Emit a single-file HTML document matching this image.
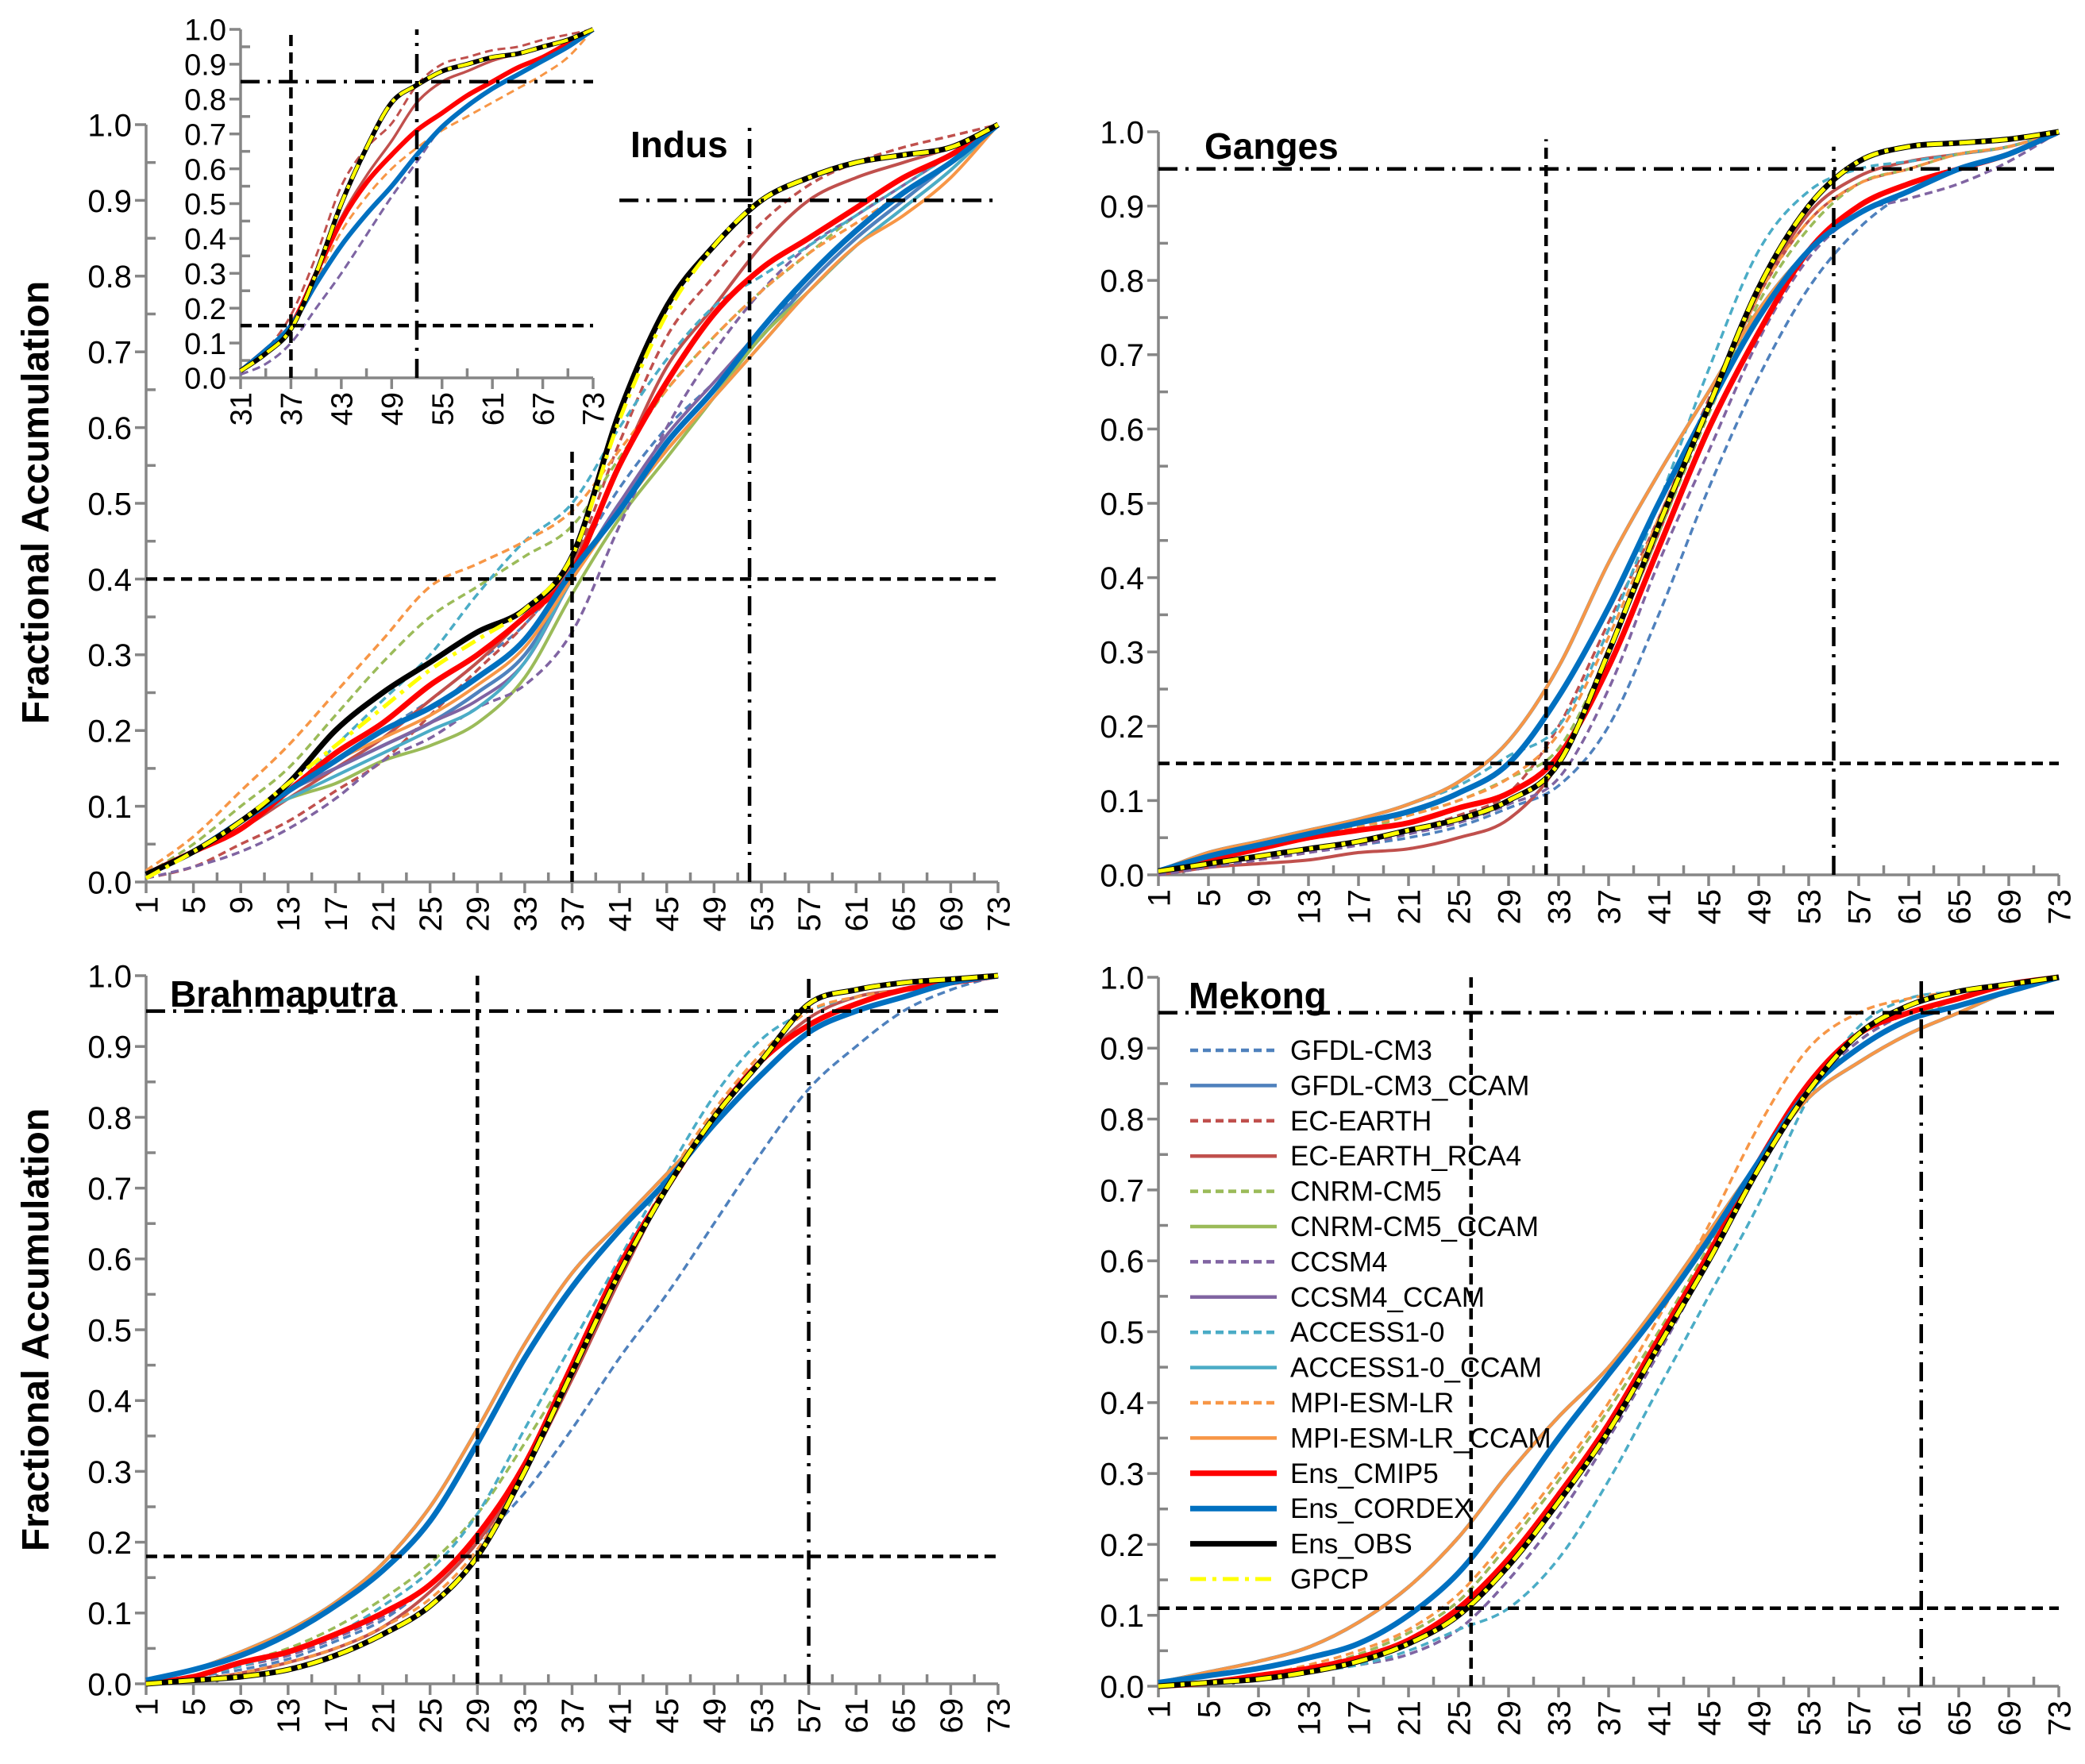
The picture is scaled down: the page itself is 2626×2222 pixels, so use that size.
<!DOCTYPE html>
<html><head><meta charset="utf-8"><style>
html,body{margin:0;padding:0;background:#fff;}
svg{display:block;font-family:"Liberation Sans",sans-serif;}
</style></head><body>
<svg id="chart" xmlns="http://www.w3.org/2000/svg" width="2626" height="2222" viewBox="0 0 2626 2222">
<rect x="0" y="0" width="2626" height="2222" fill="#fff"/>
</svg>
<script>
// ---------- data ----------
const days = [1,5,9,13,17,21,25,29,33,37,41,45,49,53,57,61,65,69,73];
const insetDays = [31,34,37,40,43,46,49,52,55,58,61,64,67,70,73];
const seriesNames = ["GFDL-CM3","GFDL-CM3_CCAM","EC-EARTH","EC-EARTH_RCA4","CNRM-CM5","CNRM-CM5_CCAM","CCSM4","CCSM4_CCAM","ACCESS1-0","ACCESS1-0_CCAM","MPI-ESM-LR","MPI-ESM-LR_CCAM","Ens_CMIP5","Ens_CORDEX","Ens_OBS","GPCP"];

// Indus
const indus_GFDL = [0.01,0.04,0.08,0.12,0.16,0.20,0.24,0.29,0.34,0.42,0.52,0.60,0.66,0.73,0.79,0.85,0.90,0.95,1.0];
const indus_GFDL_CCAM = [0.01,0.04,0.08,0.12,0.15,0.18,0.21,0.25,0.30,0.40,0.50,0.58,0.65,0.72,0.79,0.85,0.90,0.95,1.0];
const indus_EC = [0.005,0.02,0.05,0.08,0.12,0.16,0.22,0.28,0.34,0.42,0.58,0.72,0.80,0.87,0.92,0.95,0.97,0.985,1.0];
const indus_EC_RCA4 = [0.01,0.04,0.07,0.11,0.15,0.19,0.24,0.29,0.35,0.42,0.55,0.68,0.76,0.84,0.90,0.93,0.95,0.97,1.0];
const indus_CNRM = [0.01,0.05,0.10,0.15,0.22,0.29,0.35,0.39,0.43,0.47,0.56,0.65,0.72,0.78,0.83,0.88,0.92,0.96,1.0];
const indus_CNRM_CCAM = [0.01,0.04,0.08,0.11,0.13,0.16,0.18,0.21,0.27,0.38,0.48,0.56,0.64,0.72,0.78,0.84,0.89,0.94,1.0];
const indus_CCSM4 = [0.005,0.02,0.04,0.07,0.11,0.16,0.19,0.23,0.26,0.33,0.47,0.60,0.70,0.78,0.84,0.88,0.92,0.96,1.0];
const indus_CCSM4_CCAM = [0.01,0.04,0.08,0.12,0.15,0.18,0.21,0.24,0.29,0.40,0.50,0.59,0.66,0.73,0.80,0.86,0.91,0.95,1.0];
const indus_ACCESS = [0.01,0.04,0.08,0.12,0.18,0.24,0.30,0.38,0.45,0.50,0.60,0.69,0.76,0.80,0.84,0.88,0.92,0.96,1.0];
const indus_ACCESS_CCAM = [0.01,0.04,0.08,0.11,0.14,0.17,0.20,0.23,0.29,0.40,0.49,0.57,0.64,0.71,0.78,0.84,0.89,0.94,1.0];
const indus_MPI = [0.015,0.06,0.12,0.18,0.25,0.32,0.39,0.42,0.45,0.49,0.57,0.65,0.72,0.78,0.83,0.87,0.91,0.95,1.0];
const indus_MPI_CCAM = [0.01,0.04,0.08,0.12,0.16,0.19,0.22,0.26,0.31,0.40,0.49,0.57,0.64,0.71,0.78,0.84,0.88,0.93,1.0];
const indus_CMIP5 = [0.01,0.04,0.07,0.12,0.17,0.21,0.26,0.30,0.35,0.41,0.55,0.66,0.75,0.81,0.85,0.89,0.93,0.96,1.0];
const indus_CORDEX = [0.01,0.04,0.08,0.12,0.16,0.20,0.23,0.27,0.32,0.41,0.49,0.58,0.65,0.73,0.80,0.86,0.91,0.95,1.0];
const indus_OBS = [0.01,0.04,0.08,0.13,0.20,0.25,0.29,0.33,0.36,0.43,0.62,0.76,0.84,0.90,0.93,0.95,0.96,0.97,1.0];
const indus_GPCP = [0.005,0.04,0.08,0.13,0.18,0.23,0.28,0.32,0.36,0.43,0.61,0.75,0.84,0.90,0.93,0.95,0.96,0.97,1.0];

// Indus inset (days 31-73)
const inset_GFDL = [0.01,0.04,0.10,0.20,0.30,0.41,0.52,0.62,0.72,0.78,0.83,0.87,0.91,0.95,1.0];
const inset_CCAM = [0.02,0.08,0.15,0.27,0.38,0.47,0.55,0.64,0.72,0.78,0.83,0.87,0.91,0.95,1.0];
const inset_EC = [0.02,0.08,0.18,0.35,0.55,0.66,0.73,0.84,0.90,0.92,0.94,0.95,0.97,0.985,1.0];
const inset_EC_RCA4 = [0.02,0.07,0.15,0.30,0.46,0.58,0.68,0.79,0.85,0.88,0.91,0.93,0.95,0.97,1.0];
const inset_CMIP5 = [0.02,0.08,0.15,0.30,0.45,0.56,0.64,0.71,0.76,0.81,0.85,0.89,0.92,0.96,1.0];
const inset_MPI = [0.02,0.07,0.14,0.28,0.42,0.52,0.60,0.66,0.71,0.75,0.79,0.83,0.87,0.92,1.0];
const inset_OBS = [0.02,0.07,0.14,0.30,0.50,0.66,0.79,0.84,0.88,0.90,0.92,0.93,0.95,0.97,1.0];

// Ganges
const ganges_GFDL = [0.0,0.01,0.02,0.03,0.04,0.05,0.065,0.09,0.12,0.20,0.35,0.52,0.67,0.79,0.87,0.92,0.95,0.97,1.0];
const ganges_CCAM = [0.005,0.03,0.045,0.06,0.075,0.095,0.125,0.18,0.28,0.42,0.54,0.65,0.76,0.84,0.89,0.92,0.95,0.97,1.0];
const ganges_EC = [0.0,0.01,0.02,0.03,0.045,0.06,0.08,0.11,0.20,0.34,0.48,0.64,0.78,0.88,0.93,0.95,0.97,0.98,1.0];
const ganges_EC_RCA4 = [0.0,0.01,0.015,0.02,0.03,0.035,0.05,0.075,0.15,0.30,0.46,0.63,0.78,0.89,0.94,0.96,0.97,0.98,1.0];
const ganges_CNRM = [0.005,0.02,0.035,0.05,0.06,0.08,0.10,0.13,0.17,0.30,0.46,0.62,0.77,0.87,0.93,0.95,0.97,0.98,1.0];
const ganges_CCSM4 = [0.0,0.01,0.02,0.03,0.04,0.055,0.07,0.095,0.13,0.25,0.42,0.57,0.72,0.83,0.89,0.91,0.93,0.96,1.0];
const ganges_ACCESS = [0.005,0.03,0.045,0.06,0.075,0.095,0.12,0.16,0.20,0.33,0.50,0.68,0.84,0.92,0.95,0.96,0.97,0.98,1.0];
const ganges_MPI = [0.005,0.02,0.035,0.05,0.065,0.08,0.10,0.13,0.19,0.32,0.48,0.63,0.78,0.88,0.93,0.95,0.97,0.98,1.0];
const ganges_CMIP5 = [0.005,0.02,0.035,0.05,0.06,0.07,0.09,0.11,0.16,0.28,0.44,0.60,0.73,0.84,0.90,0.93,0.95,0.97,1.0];
const ganges_CORDEX = [0.005,0.025,0.04,0.055,0.07,0.085,0.11,0.15,0.24,0.36,0.50,0.63,0.75,0.84,0.89,0.92,0.95,0.97,1.0];
const ganges_OBS = [0.005,0.015,0.025,0.035,0.045,0.06,0.075,0.10,0.15,0.30,0.47,0.63,0.79,0.90,0.96,0.98,0.985,0.99,1.0];

// Brahmaputra
const brahma_GFDL = [0.0,0.01,0.02,0.035,0.06,0.09,0.14,0.20,0.27,0.36,0.46,0.55,0.65,0.75,0.84,0.90,0.95,0.98,1.0];
const brahma_CCAM = [0.005,0.02,0.045,0.075,0.115,0.17,0.25,0.36,0.48,0.58,0.65,0.72,0.79,0.86,0.92,0.95,0.97,0.99,1.0];
const brahma_EC = [0.0,0.01,0.025,0.04,0.065,0.095,0.14,0.21,0.31,0.45,0.59,0.70,0.80,0.88,0.93,0.96,0.98,0.99,1.0];
const brahma_EC_RCA4 = [0.0,0.005,0.015,0.03,0.05,0.08,0.13,0.20,0.30,0.43,0.57,0.70,0.80,0.88,0.94,0.97,0.98,0.99,1.0];
const brahma_CNRM = [0.0,0.01,0.03,0.05,0.08,0.12,0.17,0.24,0.34,0.45,0.58,0.70,0.80,0.88,0.93,0.96,0.98,0.99,1.0];
const brahma_ACCESS = [0.0,0.01,0.025,0.045,0.07,0.11,0.16,0.24,0.36,0.48,0.60,0.72,0.83,0.91,0.95,0.97,0.98,0.99,1.0];
const brahma_MPI = [0.0,0.005,0.015,0.03,0.05,0.08,0.12,0.19,0.30,0.44,0.58,0.71,0.81,0.89,0.95,0.97,0.98,0.99,1.0];
const brahma_CMIP5 = [0.0,0.01,0.03,0.045,0.07,0.10,0.14,0.21,0.31,0.45,0.59,0.70,0.80,0.88,0.93,0.96,0.98,0.99,1.0];
const brahma_CORDEX = [0.005,0.02,0.04,0.07,0.11,0.16,0.23,0.34,0.46,0.56,0.64,0.71,0.79,0.86,0.92,0.95,0.97,0.99,1.0];
const brahma_OBS = [0.0,0.005,0.01,0.02,0.04,0.07,0.11,0.18,0.30,0.44,0.58,0.70,0.80,0.88,0.96,0.98,0.99,0.995,1.0];

// Mekong
const mekong_GFDL = [0.0,0.005,0.01,0.02,0.03,0.045,0.08,0.15,0.24,0.35,0.47,0.60,0.73,0.84,0.91,0.95,0.97,0.99,1.0];
const mekong_CCAM = [0.005,0.02,0.035,0.055,0.09,0.14,0.21,0.30,0.38,0.45,0.54,0.64,0.74,0.83,0.88,0.92,0.95,0.98,1.0];
const mekong_EC = [0.0,0.005,0.015,0.025,0.045,0.075,0.12,0.20,0.29,0.39,0.50,0.62,0.74,0.84,0.90,0.94,0.97,0.99,1.0];
const mekong_ACCESS = [0.0,0.005,0.01,0.02,0.03,0.05,0.08,0.11,0.18,0.29,0.42,0.55,0.68,0.83,0.93,0.97,0.98,0.99,1.0];
const mekong_MPI = [0.0,0.005,0.015,0.03,0.05,0.08,0.13,0.21,0.30,0.40,0.52,0.65,0.79,0.90,0.95,0.97,0.98,0.99,1.0];
const mekong_CMIP5 = [0.0,0.005,0.015,0.025,0.04,0.065,0.11,0.18,0.27,0.37,0.49,0.61,0.74,0.85,0.92,0.95,0.97,0.99,1.0];
const mekong_CORDEX = [0.005,0.015,0.025,0.04,0.06,0.10,0.16,0.25,0.35,0.44,0.53,0.63,0.74,0.84,0.90,0.94,0.96,0.98,1.0];
const mekong_OBS = [0.0,0.005,0.01,0.02,0.035,0.06,0.10,0.17,0.26,0.36,0.48,0.60,0.73,0.84,0.92,0.96,0.98,0.99,1.0];

// ---------- styles ----------
const styles = {
 "GFDL-CM3":{c:"#4f81bd",w:3.5,d:"10,6"},
 "GFDL-CM3_CCAM":{c:"#4f81bd",w:4.5,d:""},
 "EC-EARTH":{c:"#c0504d",w:3.5,d:"10,6"},
 "EC-EARTH_RCA4":{c:"#c0504d",w:4,d:""},
 "CNRM-CM5":{c:"#9bbb59",w:3.5,d:"10,6"},
 "CNRM-CM5_CCAM":{c:"#9bbb59",w:4,d:""},
 "CCSM4":{c:"#8064a2",w:3.5,d:"10,6"},
 "CCSM4_CCAM":{c:"#8064a2",w:4,d:""},
 "ACCESS1-0":{c:"#4bacc6",w:3.5,d:"10,6"},
 "ACCESS1-0_CCAM":{c:"#4bacc6",w:4,d:""},
 "MPI-ESM-LR":{c:"#f79646",w:3.5,d:"10,6"},
 "MPI-ESM-LR_CCAM":{c:"#f79646",w:4,d:""},
 "Ens_CMIP5":{c:"#ff0000",w:7,d:""},
 "Ens_CORDEX":{c:"#0070c0",w:7,d:""},
 "Ens_OBS":{c:"#000000",w:7,d:""},
 "GPCP":{c:"#ffff00",w:5,d:"20,8,5,8"}
};
const NS="http://www.w3.org/2000/svg";
const svg=document.getElementById("chart");
function el(tag,attrs,parent){const e=document.createElementNS(NS,tag);for(const k in attrs)e.setAttribute(k,attrs[k]);(parent||svg).appendChild(e);return e;}

function smoothPath(pts){
 let d="M"+pts[0][0].toFixed(1)+","+pts[0][1].toFixed(1);
 for(let i=0;i<pts.length-1;i++){
  const p0=pts[i-1]||pts[i],p1=pts[i],p2=pts[i+1],p3=pts[i+2]||p2;
  const c1x=p1[0]+(p2[0]-p0[0])/6,c1y=p1[1]+(p2[1]-p0[1])/6;
  const c2x=p2[0]-(p3[0]-p1[0])/6,c2y=p2[1]-(p3[1]-p1[1])/6;
  d+=" C"+c1x.toFixed(1)+","+c1y.toFixed(1)+" "+c2x.toFixed(1)+","+c2y.toFixed(1)+" "+p2[0].toFixed(1)+","+p2[1].toFixed(1);
 }
 return d;
}

function drawPanel(p){
 const g=el("g",{});
 
 
 const X=v=>p.x0+(v-p.xmin)/(p.xmax-p.xmin)*(p.x1-p.x0);
 const Y=v=>p.y0-(v)*(p.y0-p.y1);
 const ax="#868686";
 const ya=el("line",{x1:p.x0,y1:p.y0,x2:p.x0,y2:p.y1,stroke:ax,"stroke-width":3.5},g);
 
 
 for(let i=0;i<=20;i++){
  const v=i/20,y=Y(v),major=i%2==0;
  el("line",{x1:p.x0-(major?14:0),x2:p.x0+(major?0:12),y1:y,y2:y,stroke:ax,"stroke-width":3.5},g);
  if(major){
   const t=el("text",{x:p.x0-18,y:y+p.fs*0.36,"text-anchor":"end","font-size":p.fs,fill:"#000"},g);
   t.textContent=v.toFixed(1);
   
   
  }
 }
 const xa=el("line",{x1:p.x0,y1:p.y0,x2:p.x1,y2:p.y0,stroke:ax,"stroke-width":3.5},g);
 
 
 for(let d=p.xmin;d<=p.xmax;d+=p.minorStep){
  const x=X(d),major=((d-p.xmin)%p.labelStep)==0;
  el("line",{x1:x,x2:x,y1:p.y0-(major?0:12),y2:p.y0+(major?14:0),stroke:ax,"stroke-width":3.5},g);
  if(major){
   const t=el("text",{transform:"translate("+(x+p.fs*0.36)+","+(p.y0+18)+") rotate(-90)","text-anchor":"end","font-size":p.fs,fill:"#000"},g);
   t.textContent=d;
   
   
  }
 }
 p.series.forEach(s=>{
  const st=styles[s[0]];
  const pts=p.xs.map((d,i)=>[X(d),Y(s[1][i])]);
  const path=el("path",{d:smoothPath(pts),fill:"none",stroke:st.c,"stroke-width":st.w*(p.wscale||1),"stroke-dasharray":st.d,"stroke-linejoin":"round"},g);
  
  
 });
 p.refs.forEach(r=>{
  let a;
  const dash=r.s=="dash"?"14,8":"24,10,4,10";
  if(r.h!==undefined) a=el("line",{x1:X(r.from),x2:X(r.to),y1:Y(r.h),y2:Y(r.h),stroke:"#000","stroke-width":4.5,"stroke-dasharray":dash},g);
  else a=el("line",{x1:X(r.v),x2:X(r.v),y1:Y(r.from),y2:Y(r.to),stroke:"#000","stroke-width":4.5,"stroke-dasharray":dash},g);
  
  
 });
 if(p.title){
  const t=el("text",{x:p.title[1],y:p.title[2],"font-size":46,"font-weight":"bold",fill:"#000"},g);
  t.textContent=p.title[0];
  
  
 }
}

function S(n,a){return [n,a];}

drawPanel({name:"indus",x0:184,x1:1257,y0:1111,y1:157,xmin:1,xmax:73,minorStep:2,labelStep:4,xs:days,fs:40,
 title:["Indus",794,198],
 series:[S("GFDL-CM3",indus_GFDL),S("GFDL-CM3_CCAM",indus_GFDL_CCAM),S("EC-EARTH",indus_EC),S("EC-EARTH_RCA4",indus_EC_RCA4),S("CNRM-CM5",indus_CNRM),S("CNRM-CM5_CCAM",indus_CNRM_CCAM),S("CCSM4",indus_CCSM4),S("CCSM4_CCAM",indus_CCSM4_CCAM),S("ACCESS1-0",indus_ACCESS),S("ACCESS1-0_CCAM",indus_ACCESS_CCAM),S("MPI-ESM-LR",indus_MPI),S("MPI-ESM-LR_CCAM",indus_MPI_CCAM),S("Ens_CMIP5",indus_CMIP5),S("Ens_CORDEX",indus_CORDEX),S("Ens_OBS",indus_OBS),S("GPCP",indus_GPCP)],
 refs:[{h:0.4,from:1,to:73,s:"dash"},{v:37,from:0,to:0.57,s:"dash"},{v:52,from:0,to:1.0,s:"dashdot"},{h:0.9,from:41,to:73,s:"dashdot"}]});

drawPanel({name:"indus-inset",x0:303,x1:747,y0:476,y1:37,xmin:31,xmax:73,minorStep:3,labelStep:6,xs:insetDays,fs:38,wscale:0.85,
 series:[S("GFDL-CM3",inset_GFDL),S("GFDL-CM3_CCAM",inset_CCAM),S("EC-EARTH",inset_EC),S("EC-EARTH_RCA4",inset_EC_RCA4),S("CNRM-CM5",inset_CCAM),S("CNRM-CM5_CCAM",inset_CCAM),S("CCSM4",inset_GFDL),S("CCSM4_CCAM",inset_CCAM),S("ACCESS1-0",inset_CMIP5),S("ACCESS1-0_CCAM",inset_CCAM),S("MPI-ESM-LR",inset_MPI),S("MPI-ESM-LR_CCAM",inset_CCAM),S("Ens_CMIP5",inset_CMIP5),S("Ens_CORDEX",inset_CCAM),S("Ens_OBS",inset_OBS),S("GPCP",inset_OBS)],
 refs:[{h:0.15,from:31,to:73,s:"dash"},{h:0.85,from:31,to:73,s:"dashdot"},{v:37,from:0,to:1.0,s:"dash"},{v:52,from:0,to:1.0,s:"dashdot"}]});

drawPanel({name:"ganges",x0:1459,x1:2593,y0:1102,y1:166,xmin:1,xmax:73,minorStep:2,labelStep:4,xs:days,fs:40,
 title:["Ganges",1517,200],
 series:[S("GFDL-CM3",ganges_GFDL),S("GFDL-CM3_CCAM",ganges_CCAM),S("EC-EARTH",ganges_EC),S("EC-EARTH_RCA4",ganges_EC_RCA4),S("CNRM-CM5",ganges_CNRM),S("CNRM-CM5_CCAM",ganges_CCAM),S("CCSM4",ganges_CCSM4),S("CCSM4_CCAM",ganges_CCAM),S("ACCESS1-0",ganges_ACCESS),S("ACCESS1-0_CCAM",ganges_CCAM),S("MPI-ESM-LR",ganges_MPI),S("MPI-ESM-LR_CCAM",ganges_CCAM),S("Ens_CMIP5",ganges_CMIP5),S("Ens_CORDEX",ganges_CORDEX),S("Ens_OBS",ganges_OBS),S("GPCP",ganges_OBS)],
 refs:[{h:0.95,from:1,to:73,s:"dashdot"},{h:0.15,from:1,to:73,s:"dash"},{v:32,from:0,to:0.99,s:"dash"},{v:55,from:0,to:0.98,s:"dashdot"}]});

drawPanel({name:"brahmaputra",x0:184,x1:1257,y0:2121,y1:1229,xmin:1,xmax:73,minorStep:2,labelStep:4,xs:days,fs:40,
 title:["Brahmaputra",214,1268],
 series:[S("GFDL-CM3",brahma_GFDL),S("GFDL-CM3_CCAM",brahma_CCAM),S("EC-EARTH",brahma_EC),S("EC-EARTH_RCA4",brahma_EC_RCA4),S("CNRM-CM5",brahma_CNRM),S("CNRM-CM5_CCAM",brahma_CCAM),S("CCSM4",brahma_EC),S("CCSM4_CCAM",brahma_CCAM),S("ACCESS1-0",brahma_ACCESS),S("ACCESS1-0_CCAM",brahma_CCAM),S("MPI-ESM-LR",brahma_MPI),S("MPI-ESM-LR_CCAM",brahma_CCAM),S("Ens_CMIP5",brahma_CMIP5),S("Ens_CORDEX",brahma_CORDEX),S("Ens_OBS",brahma_OBS),S("GPCP",brahma_OBS)],
 refs:[{h:0.95,from:1,to:73,s:"dashdot"},{h:0.18,from:1,to:73,s:"dash"},{v:29,from:0,to:1.0,s:"dash"},{v:57,from:0,to:1.0,s:"dashdot"}]});

drawPanel({name:"mekong",x0:1459,x1:2593,y0:2124,y1:1231,xmin:1,xmax:73,minorStep:2,labelStep:4,xs:days,fs:40,
 title:["Mekong",1497,1270],
 series:[S("GFDL-CM3",mekong_GFDL),S("GFDL-CM3_CCAM",mekong_CCAM),S("EC-EARTH",mekong_EC),S("EC-EARTH_RCA4",mekong_CMIP5),S("CNRM-CM5",mekong_EC),S("CNRM-CM5_CCAM",mekong_CCAM),S("CCSM4",mekong_GFDL),S("CCSM4_CCAM",mekong_CCAM),S("ACCESS1-0",mekong_ACCESS),S("ACCESS1-0_CCAM",mekong_CCAM),S("MPI-ESM-LR",mekong_MPI),S("MPI-ESM-LR_CCAM",mekong_CCAM),S("Ens_CMIP5",mekong_CMIP5),S("Ens_CORDEX",mekong_CORDEX),S("Ens_OBS",mekong_OBS),S("GPCP",mekong_OBS)],
 refs:[{h:0.95,from:1,to:73,s:"dashdot"},{h:0.11,from:1,to:73,s:"dash"},{v:26,from:0,to:1.0,s:"dash"},{v:62,from:0,to:1.0,s:"dashdot"}]});

[[45,633],[45,1675]].forEach(pos=>{
 const t=el("text",{transform:"translate("+(pos[0]+16)+","+pos[1]+") rotate(-90)","text-anchor":"middle","font-size":48,"font-weight":"bold",fill:"#000"});
 t.textContent="Fractional Accumulation";
 
 
});

const lg=el("g",{});


seriesNames.forEach((n,i)=>{
 const st=styles[n];
 const y=1323+i*44.4;
 const ln=el("line",{x1:1499,x2:1608,y1:y,y2:y,stroke:st.c,"stroke-width":Math.max(st.w,4.5),"stroke-dasharray":st.d},lg);
 
 
 const t=el("text",{x:1625,y:y+12,"font-size":35,fill:"#000"},lg);
 t.textContent=n;
 
 
});
</script>
</body></html>
